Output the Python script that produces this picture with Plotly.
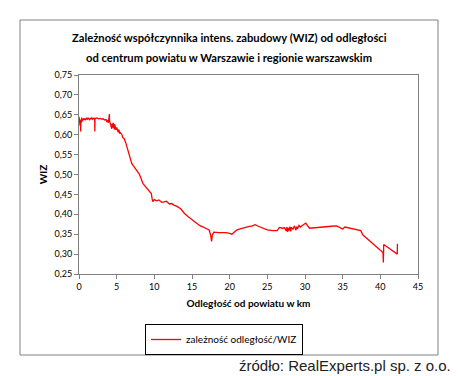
import plotly.graph_objects as go

# distance from powiat centre [km]
dist_km = [
    0.0, 0.05, 0.1, 0.15, 0.2, 0.22, 0.25, 0.3, 0.35, 0.4, 0.45, 0.5, 0.6, 0.7, 0.8, 0.9,
    1.0, 1.1, 1.2, 1.3, 1.4, 1.5, 1.6, 1.7, 1.8, 1.9, 2.0, 2.08, 2.1, 2.12, 2.2, 2.4,
    2.6, 2.8, 3.0, 3.2, 3.4, 3.6, 3.7, 3.8, 3.9, 4.0, 4.03, 4.06, 4.1, 4.2, 4.3, 4.35,
    4.4, 4.5, 4.55, 4.6, 4.7, 4.75, 4.8, 4.9, 5.0, 5.1, 5.2, 5.3, 5.4, 5.5, 5.7, 5.8,
    6.0, 6.2, 6.4, 6.6, 6.8, 7.0, 7.2, 7.5, 7.8, 8.0, 8.2, 8.5, 8.8, 9.0, 9.3, 9.6,
    9.7, 9.8, 10.0, 10.3, 10.6, 11.0, 11.3, 11.6, 12.0, 12.3, 12.6, 13.0, 13.5, 14.0,
    14.5, 15.0, 15.5, 16.0, 16.5, 17.0, 17.3, 17.5, 17.6, 17.7, 17.9, 18.5, 19.0, 19.5,
    20.0, 20.3, 20.7, 21.0, 21.5, 22.0, 22.5, 23.0, 23.4, 23.8, 24.3, 25.0, 25.7, 26.3,
    26.6, 27.0, 27.3, 27.5, 27.6, 27.7, 27.8, 27.9, 28.0, 28.1, 28.2, 28.4, 28.6, 28.8,
    28.9, 29.0, 29.2, 29.4, 29.6, 29.8, 30.1, 30.6, 31.5, 32.5, 33.5, 34.2, 34.8, 35.0,
    35.3, 36.0, 37.0, 37.4, 37.7, 38.5, 39.5, 40.35, 40.4, 40.45, 41.3, 42.25, 42.27,
]

# WIZ coefficient
wiz = [
    0.645, 0.628, 0.641, 0.622, 0.636, 0.608, 0.638, 0.630, 0.643, 0.633, 0.640, 0.636, 0.641, 0.637, 0.640, 0.638,
    0.641, 0.639, 0.642, 0.640, 0.638, 0.641, 0.640, 0.643, 0.639, 0.641, 0.640, 0.642, 0.608, 0.640, 0.641, 0.642,
    0.640, 0.641, 0.639, 0.640, 0.637, 0.638, 0.632, 0.636, 0.630, 0.640, 0.652, 0.634, 0.632, 0.626, 0.622, 0.615,
    0.628, 0.618, 0.630, 0.622, 0.613, 0.626, 0.620, 0.612, 0.618, 0.608, 0.606, 0.613, 0.603, 0.605, 0.600, 0.593,
    0.590, 0.580, 0.566, 0.552, 0.538, 0.528, 0.522, 0.514, 0.506, 0.501, 0.492, 0.477, 0.470, 0.466, 0.460, 0.452,
    0.440, 0.432, 0.437, 0.434, 0.436, 0.430, 0.431, 0.433, 0.426, 0.427, 0.423, 0.420, 0.414, 0.402,
    0.394, 0.386, 0.378, 0.372, 0.368, 0.363, 0.360, 0.345, 0.332, 0.348, 0.355, 0.354, 0.354, 0.354,
    0.352, 0.350, 0.357, 0.361, 0.364, 0.367, 0.369, 0.371, 0.374, 0.370, 0.366, 0.361, 0.359, 0.359,
    0.367, 0.365, 0.366, 0.358, 0.368, 0.356, 0.366, 0.359, 0.369, 0.357, 0.367, 0.362, 0.371, 0.360,
    0.369, 0.364, 0.372, 0.368, 0.371, 0.374, 0.378, 0.365, 0.367, 0.369, 0.370, 0.371, 0.366, 0.363,
    0.368, 0.365, 0.362, 0.359, 0.348, 0.335, 0.320, 0.304, 0.279, 0.324, 0.313, 0.300, 0.326,
]

x_ticks = [0, 5, 10, 15, 20, 25, 30, 35, 40, 45]
y_ticks = [0.25, 0.30, 0.35, 0.40, 0.45, 0.50, 0.55, 0.60, 0.65, 0.70, 0.75]

title_lines = [
    "Zależność współczynnika intens. zabudowy (WIZ) od odległości",
    "od centrum powiatu w Warszawie i regionie warszawskim",
]

OFF = 8  # page body margin offset
W, H = 459 - OFF, 376 - OFF
L, R, T, B = 79 - OFF, 418 - OFF, 75 - OFF, 274 - OFF
pw, ph = R - L, B - T

def px(xp):
    return (xp - OFF - L) / pw

def py(yp):
    return (B - (yp - OFF)) / ph

FONT = "Lato"

fig = go.Figure()
fig.add_trace(go.Scatter(
    x=dist_km, y=wiz, mode="lines",
    line=dict(color="#FF0000", width=1.3),
    name="zależność odległość/WIZ",
))

annotations = [
    dict(
        text="<b>%s</b>" % line,
        xref="paper", yref="paper", x=px(229), y=py(yc), xanchor="center", yanchor="middle",
        showarrow=False, font=dict(family=FONT, size=11.2, color="black"),
    )
    for line, yc in zip(title_lines, [37, 57])
]
annotations.append(dict(
    text="źródło: RealExperts.pl sp. z o.o.",
    xref="paper", yref="paper", x=px(452), y=py(365), xanchor="right", yanchor="middle",
    showarrow=False, font=dict(family="Liberation Sans", size=15, color="#222222"),
    borderpad=0,
))

fig.update_layout(
    width=W, height=H,
    margin=dict(l=L, r=W - R, t=T, b=H - B, autoexpand=False),
    paper_bgcolor="white", plot_bgcolor="white",
    separators=", ",
    font=dict(family=FONT, size=9, color="black"),
    showlegend=True,
    legend=dict(
        x=px(145), y=py(324), xanchor="left", yanchor="top",
        bordercolor="black", borderwidth=1, bgcolor="white",
        font=dict(family=FONT, size=10, color="black"),
        entrywidth=128, itemwidth=30, tracegroupgap=0,
    ),
    xaxis=dict(
        range=[0, 45], tickvals=x_ticks, showgrid=False, zeroline=False,
        showline=True, linecolor="#808080", linewidth=1, mirror=True,
        ticks="outside", ticklen=4, tickcolor="#808080",
        tickfont=dict(family=FONT, size=9), automargin=False,
        title=dict(text="<b>Odległość od powiatu w km</b>", font=dict(family=FONT, size=10), standoff=9),
    ),
    yaxis=dict(
        range=[0.25, 0.75], tickvals=y_ticks, tickformat=".2f", showgrid=False, zeroline=False,
        showline=True, linecolor="#808080", linewidth=1, mirror=True,
        ticks="outside", ticklen=4, tickcolor="#808080",
        tickfont=dict(family=FONT, size=9), automargin=False,
        title=dict(text="<b>WIZ</b>", font=dict(family=FONT, size=10), standoff=4),
    ),
    shapes=[dict(
        type="rect", xref="paper", yref="paper",
        x0=px(20), x1=px(438), y0=py(355), y1=py(20),
        line=dict(color="#808080", width=1), fillcolor="rgba(0,0,0,0)", layer="below",
    )],
    annotations=annotations,
)

fig.write_html("out.html")
